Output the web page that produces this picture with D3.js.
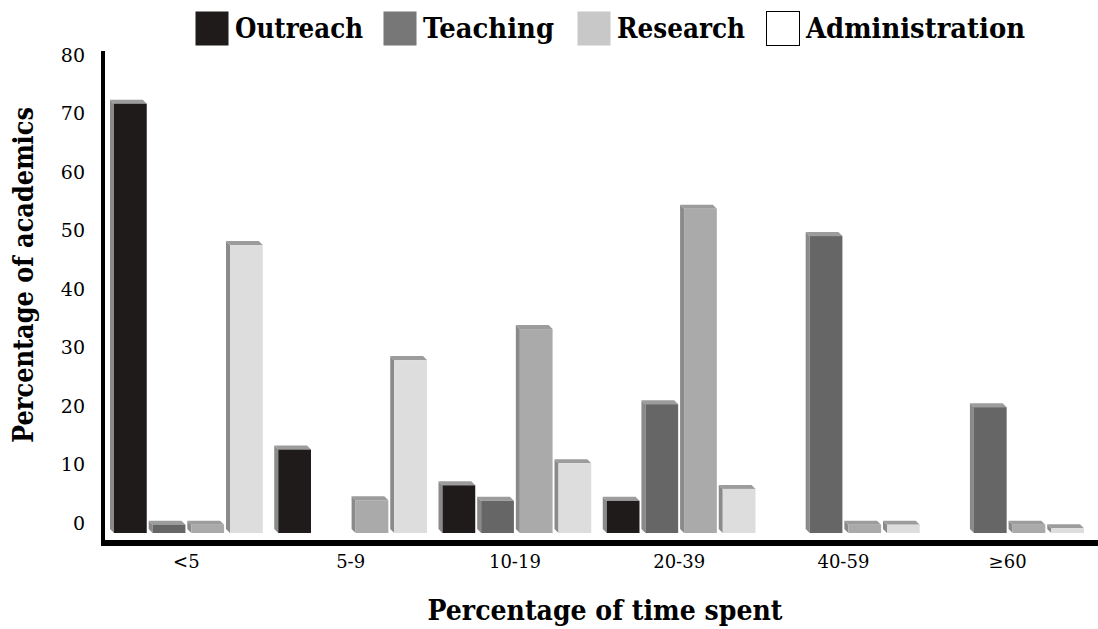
<!DOCTYPE html>
<html>
<head>
<meta charset="utf-8">
<script src="https://cdn.jsdelivr.net/npm/d3@7"></script>
<style>
  body { margin: 0; background: #fff; }
  text { font-family: "DejaVu Serif", serif; }
</style>
</head>
<body>
<script>
const width = 1098;
const height = 629;

// data
const categories = ["<5", "5-9", "10-19", "20-39", "40-59", "\u226560"];
const series = ["Outreach", "Teaching", "Research", "Administration"];
const outreach = [72, 14, 8, 5.4, 0, 0];
const teaching = [1.4, 0, 5.4, 21.6, 49.8, 21.1];
const research = [1.4, 5.5, 34.2, 54.4, 1.4, 1.4];
const administration = [48.3, 29, 11.7, 7.4, 1.4, 0.8];
const yTicks = [0, 10, 20, 30, 40, 50, 60, 70, 80];

const values = [outreach, teaching, research, administration];
const barColor = ["#1f1b1a", "#666666", "#aaaaaa", "#dddddd"];
const legendColor = ["#1f1b1a", "#777777", "#c8c8c8", "#ffffff"];
const depth = 4;

var svg = d3.select("body")
  .append("svg")
  .attr("width", width)
  .attr("height", height);

var x0 = d3.scaleBand()
  .domain(categories)
  .range([110, 1084])
  .paddingInner(0.07);

var x1 = d3.scaleBand()
  .domain(series)
  .range([0, x0.bandwidth()])
  .paddingInner(0.05);

var y = d3.scaleLinear().domain([0, 80]).range([533, 56]);
// tick labels sit a little above the bar baseline in the original
var yLabel = d3.scaleLinear().domain([0, 80]).range([523, 55]);

// bars
var bars = svg.append("g");
categories.forEach(function(c, i) {
  series.forEach(function(s, j) {
    var v = values[j][i];
    if (!v) return;
    var x = x0(c) + x1(s);
    var w = x1.bandwidth();
    var yt = y(v);
    var yb = y(0);
    var g = bars.append("g");
    // left side face
    g.append("polygon")
      .attr("points", [[x, yt - depth], [x + depth, yt], [x + depth, yb], [x, yb - depth]].join(" "))
      .attr("fill", "#8a8a8a");
    // top face
    g.append("polygon")
      .attr("points", [[x, yt - depth], [x + w - depth, yt - depth], [x + w, yt], [x + depth, yt]].join(" "))
      .attr("fill", "#9c9c9c");
    // front face
    g.append("rect")
      .attr("x", x + depth)
      .attr("y", yt)
      .attr("width", w - depth)
      .attr("height", yb - yt)
      .attr("fill", barColor[j]);
  });
});

// axes lines
svg.append("line")
  .attr("x1", 103).attr("x2", 103)
  .attr("y1", 51).attr("y2", 546)
  .attr("stroke", "#000").attr("stroke-width", 4);
svg.append("line")
  .attr("x1", 101).attr("x2", 1098)
  .attr("y1", 543).attr("y2", 543)
  .attr("stroke", "#000").attr("stroke-width", 6);

// y tick labels
var yAxis = svg.append("g")
  .attr("transform", "translate(85,0)")
  .call(d3.axisLeft(yLabel).tickValues(yTicks).tickSize(0).tickPadding(0));
yAxis.select(".domain").remove();
yAxis.selectAll("text")
  .style("font-family", "'DejaVu Serif', serif")
  .style("font-size", "19px")
  .attr("fill", "#000");

// x tick labels
var xAxis = svg.append("g")
  .attr("transform", "translate(0,555)")
  .call(d3.axisBottom(x0).tickSize(0).tickPadding(0));
xAxis.select(".domain").remove();
xAxis.selectAll("text")
  .style("font-family", "'DejaVu Serif', serif")
  .style("font-size", "18px")
  .attr("fill", "#000");

// axis titles
svg.append("text")
  .attr("transform", "translate(33,275) rotate(-90)")
  .attr("text-anchor", "middle")
  .attr("textLength", 336)
  .attr("lengthAdjust", "spacingAndGlyphs")
  .style("font-size", "27px")
  .style("font-weight", "bold")
  .text("Percentage of academics");

svg.append("text")
  .attr("x", 605)
  .attr("y", 620)
  .attr("text-anchor", "middle")
  .attr("textLength", 355)
  .attr("lengthAdjust", "spacingAndGlyphs")
  .style("font-size", "27px")
  .style("font-weight", "bold")
  .text("Percentage of time spent");

// legend
const legendX = [195, 383, 577, 766];
const legendTextW = [128, 131, 128, 219];
var legend = svg.append("g");
series.forEach(function(s, j) {
  legend.append("rect")
    .attr("x", legendX[j] + 0.5)
    .attr("y", 11.5)
    .attr("width", 33)
    .attr("height", 34)
    .attr("fill", legendColor[j])
    .attr("stroke", j === 3 ? "#000" : "none")
    .attr("stroke-width", 1);
  legend.append("text")
    .attr("x", legendX[j] + 40)
    .attr("y", 38)
    .attr("textLength", legendTextW[j])
    .attr("lengthAdjust", "spacingAndGlyphs")
    .style("font-size", "28px")
    .style("font-weight", "bold")
    .text(s);
});
</script>
</body>
</html>
